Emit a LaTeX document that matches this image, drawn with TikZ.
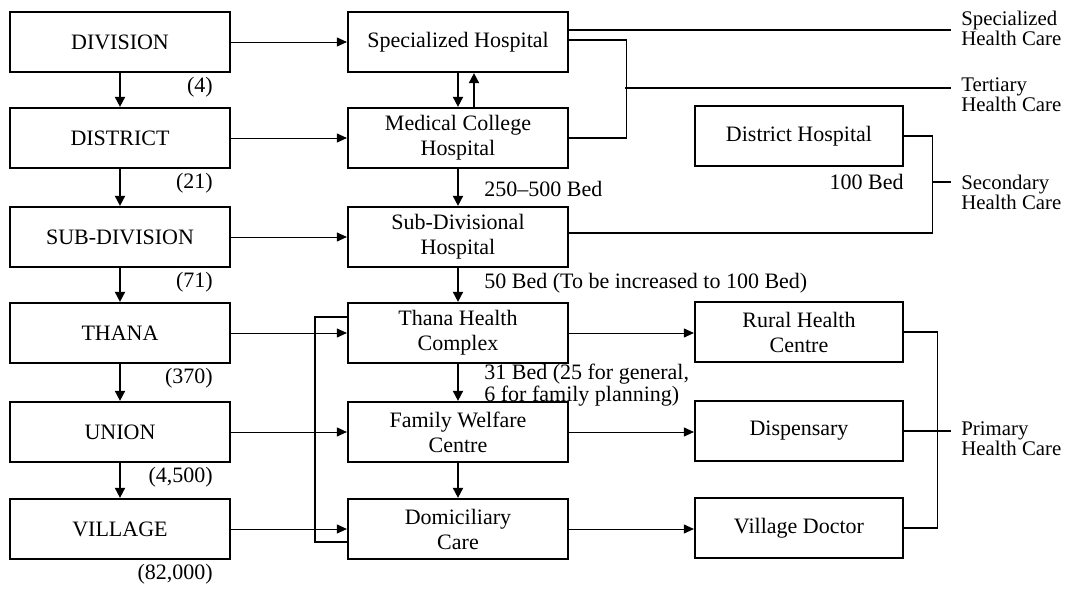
\documentclass[tikz,border=0pt]{standalone}
\usepackage{fontspec}
\setmainfont{Liberation Serif}
\usetikzlibrary{arrows.meta,positioning}

\tikzset{
  box/.style={draw, line width=1.1pt, minimum width=110pt, minimum height=30pt,
    align=center, inner sep=2pt, font=\fontsize{11}{12.5}\selectfont},
  rbox/.style={box, minimum width=104pt},
  count/.style={inner sep=1pt, font=\fontsize{11}{12}\selectfont},
  note/.style={inner sep=1pt, align=left, font=\fontsize{11}{8.5}\selectfont},
  care/.style={inner ysep=0pt, inner xsep=5pt, align=left, font=\fontsize{10.4}{10}\selectfont},
  vflow/.style={-{Triangle[length=5pt,width=5pt]}, line width=0.9pt},
  feed/.style={-{Triangle[length=5pt,width=4.5pt]}, line width=0.5pt},
  link/.style={line width=0.6pt},
}

\begin{document}
\begin{tikzpicture}[x=0.5pt,y=-0.5pt]
  \useasboundingbox (0,0) rectangle (1067,589);

  % administrative levels
  \node[box] (div) at (120,42) {DIVISION};
  \node[box] (dist) at (120,138) {DISTRICT};
  \node[box] (subdiv) at (120,237) {SUB-DIVISION};
  \node[box] (thana) at (120,333) {THANA};
  \node[box] (union) at (120,432) {UNION};
  \node[box] (village) at (120,529) {VILLAGE};

  \node[count, below left=1pt and 8pt of div.south east] (n1) {(4)};
  \node[count, below left=1pt and 8pt of dist.south east] (n2) {(21)};
  \node[count, below left=1pt and 8pt of subdiv.south east] (n3) {(71)};
  \node[count, below left=1pt and 8pt of thana.south east] (n4) {(370)};
  \node[count, below left=1pt and 8pt of union.south east] (n5) {(4,500)};
  \node[count, below left=1pt and 8pt of village.south east] (n6) {(82,000)};

  % facilities
  \node[box] (spec) at (458,42) {Specialized Hospital};
  \node[box] (mch) at (458,138) {Medical College\\Hospital};
  \node[box] (sdh) at (458,237) {Sub-Divisional\\Hospital};
  \node[box] (thc) at (458,333) {Thana Health\\Complex};
  \node[box] (fwc) at (458,432) {Family Welfare\\Centre};
  \node[box] (dom) at (458,529) {Domiciliary\\Care};

  \node[rbox] (dh) at (799,136) {District Hospital};
  \node[rbox] (rhc) at (799,332) {Rural Health\\Centre};
  \node[rbox] (disp) at (799,431) {Dispensary};
  \node[rbox] (vd) at (799,528) {Village Doctor};

  \node[note, anchor=west] (bed1) at (482,189) {250--500 Bed};
  \node[note, anchor=west] (bed2) at (482,283) {50 Bed (To be increased to 100 Bed)};
  \node[note, anchor=west] (bed3) at (482,385) {31 Bed (25 for general,\\6 for family planning)};
  \node[note, anchor=east] (bed4) at (906,182) {100 Bed};

  % levels of care
  \node[care, anchor=west] (spc) at (951,28) {Specialized\\Health Care};
  \node[care, anchor=west] (tert) at (951,95) {Tertiary\\Health Care};
  \node[care, anchor=west] (sec) at (951,192) {Secondary\\Health Care};
  \node[care, anchor=west] (prim) at (951,439) {Primary\\Health Care};

  % arrows
  \foreach \a/\b in {div/dist, dist/subdiv, subdiv/thana, thana/union, union/village}
    \draw[vflow] (\a) -- (\b);
  \foreach \a/\b in {div/spec, dist/mch, subdiv/sdh, thana/thc, union/fwc, village/dom}
    \draw[feed] (\a) -- (\b);
  \draw[vflow] (spec.south) -- (mch.north);
  \draw[vflow] ([xshift=8pt]mch.north) -- ([xshift=8pt]spec.south);
  \foreach \a/\b in {mch/sdh, sdh/thc, thc/fwc, fwc/dom}
    \draw[vflow] (\a) -- (\b);
  \foreach \a/\b in {thc/rhc, fwc/disp, dom/vd}
    \draw[feed] (\a.east) -- (\a.east -| \b.west);

  % brackets
  \draw[link] ([yshift=8pt]thc.west) -- ++(-32,0) |- ([yshift=-6.5pt]dom.west);
  \draw[link] ([yshift=6pt]spec.east) -- ([yshift=6pt]spec.east -| spc.west);
  \draw[link] ([yshift=1pt]spec.east) -- ++(57,0) |- (mch.east);
  \coordinate (tj) at (625,88);
  \draw[link] (tj) -- (tj -| tert.west);
  \draw[link] (dh.east) -- ++(28,0) |- ([yshift=2pt]sdh.east);
  \coordinate (sj) at (932,182);
  \draw[link] (sj) -- (sj -| sec.west);
  \draw[link] (rhc.east) -- ++(33,0) |- (vd.east);
  \draw[link] (disp.east) -- (disp.east -| prim.west);
\end{tikzpicture}
\end{document}
